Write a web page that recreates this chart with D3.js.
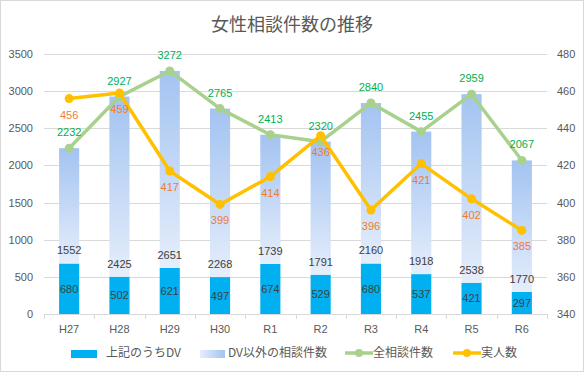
<!DOCTYPE html>
<html>
<head>
<meta charset="utf-8">
<script src="https://cdn.jsdelivr.net/npm/d3@7"></script>
<style>
  html, body { margin: 0; padding: 0; background: #fff; }
  svg { display: block; }
</style>
</head>
<body>
<svg id="chart" width="585" height="373"></svg>
<script>
(function () {
  "use strict";

  var categories = ["H27", "H28", "H29", "H30", "R1", "R2", "R3", "R4", "R5", "R6"];
  var dvCounts = [680, 502, 621, 497, 674, 529, 680, 537, 421, 297];
  var otherCounts = [1552, 2425, 2651, 2268, 1739, 1791, 2160, 1918, 2538, 1770];
  var totalCounts = [2232, 2927, 3272, 2765, 2413, 2320, 2840, 2455, 2959, 2067];
  var persons = [456, 459, 417, 399, 414, 436, 396, 421, 402, 385];
  var leftTicks = [0, 500, 1000, 1500, 2000, 2500, 3000, 3500];
  var rightTicks = [340, 360, 380, 400, 420, 440, 460, 480];
  var seriesNames = ["上記のうちDV", "DV以外の相談件数", "全相談件数", "実人数"];

  var jp = "'Noto Sans CJK JP', 'Noto Sans', sans-serif";
  var num = "'Liberation Sans', Arial, sans-serif";
  var textColor = "#595959";
  var gridColor = "#d9d9d9";

  var svg = d3.select("#chart");

  var defs = svg.append("defs");
  var grad = defs.append("linearGradient").attr("id", "otherGrad")
    .attr("x1", 0).attr("y1", 0).attr("x2", 0).attr("y2", 1);
  grad.append("stop").attr("offset", "0%").attr("stop-color", "#a3c3f1");
  grad.append("stop").attr("offset", "100%").attr("stop-color", "#e5eefb");
  var gradH = defs.append("linearGradient").attr("id", "otherGradH")
    .attr("x1", 0).attr("y1", 0).attr("x2", 1).attr("y2", 0);
  gradH.append("stop").attr("offset", "0%").attr("stop-color", "#e5eefb");
  gradH.append("stop").attr("offset", "100%").attr("stop-color", "#a3c3f1");

  // chart border
  svg.append("rect")
    .attr("x", 0.5).attr("y", 0.5).attr("width", 583).attr("height", 371)
    .attr("fill", "#fff").attr("stroke", gridColor);

  svg.append("text")
    .attr("x", 292).attr("y", 31)
    .attr("text-anchor", "middle")
    .attr("font-family", jp).attr("font-size", 18)
    .attr("fill", textColor)
    .text("女性相談件数の推移");

  var x = d3.scaleBand().domain(categories).range([44, 547])
    .paddingInner(0.6).paddingOuter(0.3);
  var step = x.step();
  var cx = function (d) { return x(d) + x.bandwidth() / 2; };
  var yL = d3.scaleLinear().domain([0, 3500]).range([314, 54]);
  var yR = d3.scaleLinear().domain([340, 480]).range([314, 54]);

  // gridlines
  svg.append("g").selectAll("line")
    .data(leftTicks.slice(1))
    .join("line")
    .attr("x1", 44).attr("x2", 547)
    .attr("y1", function (d) { return Math.round(yL(d)) + 0.5; })
    .attr("y2", function (d) { return Math.round(yL(d)) + 0.5; })
    .attr("stroke", gridColor);

  // left axis labels
  svg.append("g").selectAll("text")
    .data(leftTicks)
    .join("text")
    .attr("x", 33).attr("y", function (d) { return yL(d) + 4; })
    .attr("text-anchor", "end")
    .attr("font-family", num).attr("font-size", 11)
    .attr("fill", textColor)
    .text(function (d) { return d; });

  // right axis labels
  svg.append("g").selectAll("text")
    .data(rightTicks)
    .join("text")
    .attr("x", 557).attr("y", function (d) { return yR(d) + 4; })
    .attr("text-anchor", "start")
    .attr("font-family", num).attr("font-size", 11)
    .attr("fill", textColor)
    .text(function (d) { return d; });

  // bars
  var bars = svg.append("g");
  bars.selectAll("rect.dv")
    .data(categories)
    .join("rect")
    .attr("class", "dv")
    .attr("x", function (d) { return x(d); })
    .attr("width", x.bandwidth())
    .attr("y", function (d, i) { return yL(dvCounts[i]); })
    .attr("height", function (d, i) { return yL(0) - yL(dvCounts[i]); })
    .attr("fill", "#00b0f0");
  bars.selectAll("rect.other")
    .data(categories)
    .join("rect")
    .attr("class", "other")
    .attr("x", function (d) { return x(d); })
    .attr("width", x.bandwidth())
    .attr("y", function (d, i) { return yL(dvCounts[i] + otherCounts[i]); })
    .attr("height", function (d, i) { return yL(dvCounts[i]) - yL(dvCounts[i] + otherCounts[i]); })
    .attr("fill", "url(#otherGrad)");

  // x axis
  var axis = svg.append("g");
  axis.append("line")
    .attr("x1", 44).attr("x2", 547).attr("y1", 314.5).attr("y2", 314.5)
    .attr("stroke", gridColor);
  axis.selectAll("line.tick")
    .data(d3.range(categories.length + 1))
    .join("line")
    .attr("class", "tick")
    .attr("x1", function (i) { return Math.round(44 + i * step) + 0.5; })
    .attr("x2", function (i) { return Math.round(44 + i * step) + 0.5; })
    .attr("y1", 314).attr("y2", 319)
    .attr("stroke", gridColor);
  axis.selectAll("text")
    .data(categories)
    .join("text")
    .attr("x", cx).attr("y", 333)
    .attr("text-anchor", "middle")
    .attr("font-family", num).attr("font-size", 11)
    .attr("fill", textColor)
    .text(function (d) { return d; });

  // lines
  var greenLine = d3.line()
    .x(function (d, i) { return cx(categories[i]); })
    .y(function (d) { return yL(d); });
  var yellowLine = d3.line()
    .x(function (d, i) { return cx(categories[i]); })
    .y(function (d) { return yR(d); });

  svg.append("path").datum(totalCounts)
    .attr("d", greenLine).attr("fill", "none")
    .attr("stroke", "#a9d18e").attr("stroke-width", 3.5)
    .attr("stroke-linejoin", "round");
  svg.append("g").selectAll("circle")
    .data(totalCounts).join("circle")
    .attr("cx", function (d, i) { return cx(categories[i]); })
    .attr("cy", function (d) { return yL(d); })
    .attr("r", 4.5).attr("fill", "#a9d18e");

  svg.append("path").datum(persons)
    .attr("d", yellowLine).attr("fill", "none")
    .attr("stroke", "#ffc000").attr("stroke-width", 3.5)
    .attr("stroke-linejoin", "round");
  svg.append("g").selectAll("circle")
    .data(persons).join("circle")
    .attr("cx", function (d, i) { return cx(categories[i]); })
    .attr("cy", function (d) { return yR(d); })
    .attr("r", 4.5).attr("fill", "#ffc000");

  // data labels
  var labels = svg.append("g")
    .attr("font-family", num).attr("font-size", 11)
    .attr("text-anchor", "middle");
  labels.selectAll("text.dv")
    .data(dvCounts).join("text")
    .attr("class", "dv")
    .attr("x", function (d, i) { return cx(categories[i]); })
    .attr("y", function (d) { return (yL(d) + yL(0)) / 2 + 4; })
    .attr("fill", "#404040")
    .text(function (d) { return d; });
  labels.selectAll("text.other")
    .data(otherCounts).join("text")
    .attr("class", "other")
    .attr("x", function (d, i) { return cx(categories[i]); })
    .attr("y", function (d, i) { return yL(dvCounts[i]) - 9; })
    .attr("fill", "#404040")
    .text(function (d) { return d; });
  labels.selectAll("text.total")
    .data(totalCounts).join("text")
    .attr("class", "total")
    .attr("x", function (d, i) { return cx(categories[i]); })
    .attr("y", function (d) { return yL(d) - 12; })
    .attr("fill", "#00b050")
    .text(function (d) { return d; });
  labels.selectAll("text.persons")
    .data(persons).join("text")
    .attr("class", "persons")
    .attr("x", function (d, i) { return cx(categories[i]); })
    .attr("y", function (d) { return yR(d) + 20; })
    .attr("fill", "#ed7d31")
    .text(function (d) { return d; });

  // legend
  var legend = svg.append("g")
    .attr("font-family", jp).attr("font-size", 12).attr("fill", textColor);
  legend.append("rect").attr("x", 71).attr("y", 350).attr("width", 26).attr("height", 8)
    .attr("fill", "#00b0f0");
  legend.append("text").attr("x", 106).attr("y", 357).text(seriesNames[0]);
  legend.append("rect").attr("x", 200).attr("y", 350).attr("width", 25).attr("height", 8)
    .attr("fill", "url(#otherGradH)");
  legend.append("text").attr("x", 228).attr("y", 357).text(seriesNames[1]);
  legend.append("line").attr("x1", 345).attr("x2", 373).attr("y1", 353).attr("y2", 353)
    .attr("stroke", "#a9d18e").attr("stroke-width", 3.5);
  legend.append("circle").attr("cx", 359).attr("cy", 353).attr("r", 4).attr("fill", "#a9d18e");
  legend.append("text").attr("x", 373).attr("y", 357).text(seriesNames[2]);
  legend.append("line").attr("x1", 453).attr("x2", 481).attr("y1", 353).attr("y2", 353)
    .attr("stroke", "#ffc000").attr("stroke-width", 3.5);
  legend.append("circle").attr("cx", 467).attr("cy", 353).attr("r", 4).attr("fill", "#ffc000");
  legend.append("text").attr("x", 481).attr("y", 357).text(seriesNames[3]);
})();
</script>
</body>
</html>
